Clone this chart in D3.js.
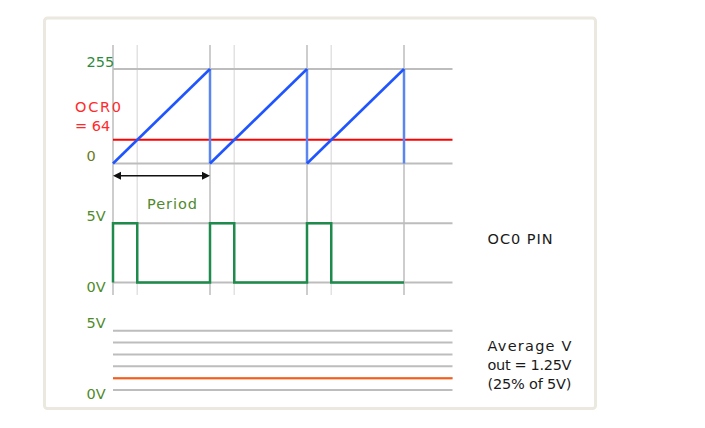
<!DOCTYPE html>
<html>
<head>
<meta charset="utf-8">
<script src="https://cdn.jsdelivr.net/npm/d3@7"></script>
<style>
  html, body { margin: 0; padding: 0; background: #ffffff; }
  svg { display: block; }
  text { font-family: "DejaVu Sans", sans-serif; font-size: 14.5px; }
</style>
</head>
<body>
<svg id="chart" width="705" height="428"></svg>
<script>
// ---------------- data ----------------
const timeExtent = [0, 3.5];                 // in PWM periods
const periodStarts = [0, 1, 2, 3];           // counter reset instants
const dutyCycle = 0.25;                      // OCR0 / 256
const counterRange = [0, 255];
const ocr0 = 64;
const counterTicks = ["0", "255"];
const counterTickValues = [0, 255];
// sawtooth ramps: [tStart, vStart, tEnd, vEnd]
const rampSegments = [[0, 0, 1, 255], [1, 0, 2, 255], [2, 0, 3, 255]];
// counter reset drops: time
const resetTimes = [1, 2, 3];
// OC0 pin waveform points [t, volts]
const pinWave = [[0, 0], [0, 5], [0.25, 5], [0.25, 0], [1, 0], [1, 5], [1.25, 5], [1.25, 0],
                 [2, 0], [2, 5], [2.25, 5], [2.25, 0], [3, 0]];
const pinLevels = [0, 5];
const pinTickLabels = ["0V", "5V"];
// average output panel
const avgGridLevels = [0, 1, 2, 3, 4, 5];
const avgLineLevel = 1;
const avgTickLabels = ["0V", "5V"];
const avgText = ["Average V", "out = 1.25V", "(25% of 5V)"];
const pinText = "OC0 PIN";
const ocrText = ["OCR0", "= 64"];
const periodText = "Period";

// ---------------- layout ----------------
const svg = d3.select("#chart");
const x = d3.scaleLinear().domain(timeExtent).range([113, 452.5]);
const yTop = d3.scaleLinear().domain(counterRange).range([163.5, 69]);
const yMid = d3.scaleLinear().domain([0, 5]).range([282.5, 223.3]);
const yBot = d3.scaleLinear().domain([0, 5]).range([390, 330.7]);

const labelGreen = "#4f8a2b";

function label(tx, ty, str, color, len, size) {
  const t = svg.append("text").attr("x", tx).attr("y", ty).attr("fill", color).text(str);
  if (size) t.style("font-size", size + "px");
  if (len) t.attr("textLength", len).attr("lengthAdjust", "spacing");
  return t;
}

// frame
svg.append("rect").attr("x", 44.5).attr("y", 18).attr("width", 551).attr("height", 390.5)
  .attr("rx", 3).attr("fill", "#fff").attr("stroke", "#ebe8df").attr("stroke-width", 3);

// vertical grid lines
const vTimes = [];
periodStarts.forEach(p => { vTimes.push({t: p, major: true}); if (p < periodStarts.length - 1) vTimes.push({t: p + dutyCycle, major: false}); });
svg.append("g").selectAll("line").data(vTimes).join("line")
  .attr("x1", d => x(d.t)).attr("x2", d => x(d.t))
  .attr("y1", 45).attr("y2", 295)
  .attr("stroke", d => d.major ? "#cdcdcd" : "#e2e2e2")
  .attr("stroke-width", d => d.major ? 2 : 1.5);

// horizontal grid lines - counter panel
svg.append("g").selectAll("line").data(counterTickValues).join("line")
  .attr("x1", x(timeExtent[0])).attr("x2", x(timeExtent[1]))
  .attr("y1", d => yTop(d)).attr("y2", d => yTop(d))
  .attr("stroke", "#bdbdbd").attr("stroke-width", 2);

// pin panel grid
svg.append("g").selectAll("line").data(pinLevels).join("line")
  .attr("x1", x(timeExtent[0])).attr("x2", x(timeExtent[1]))
  .attr("y1", d => yMid(d)).attr("y2", d => yMid(d))
  .attr("stroke", "#bdbdbd").attr("stroke-width", 2);

// average panel grid
svg.append("g").selectAll("line").data(avgGridLevels).join("line")
  .attr("x1", x(timeExtent[0])).attr("x2", x(timeExtent[1]))
  .attr("y1", d => yBot(d)).attr("y2", d => yBot(d))
  .attr("stroke", "#bdbdbd").attr("stroke-width", 2);

// OCR0 compare line
svg.append("line")
  .attr("x1", x(timeExtent[0])).attr("x2", x(timeExtent[1]))
  .attr("y1", yTop(ocr0)).attr("y2", yTop(ocr0))
  .attr("stroke", "#ff0000").attr("stroke-width", 2);

// reset drops
svg.append("g").selectAll("line").data(resetTimes).join("line")
  .attr("x1", d => x(d)).attr("x2", d => x(d))
  .attr("y1", yTop(255)).attr("y2", yTop(0))
  .attr("stroke", "#5b85f0").attr("stroke-width", 2.5);

// ramps
svg.append("g").selectAll("line").data(rampSegments).join("line")
  .attr("x1", d => x(d[0])).attr("y1", d => yTop(d[1]))
  .attr("x2", d => x(d[2])).attr("y2", d => yTop(d[3]))
  .attr("stroke", "#1f55ff").attr("stroke-width", 2.6);

// pin waveform
svg.append("path").datum(pinWave)
  .attr("d", d3.line().x(d => x(d[0])).y(d => yMid(d[1])))
  .attr("fill", "none").attr("stroke", "#1e8a4c").attr("stroke-width", 2.5);

// average line
svg.append("line")
  .attr("x1", x(timeExtent[0])).attr("x2", x(timeExtent[1]))
  .attr("y1", yBot(avgLineLevel)).attr("y2", yBot(avgLineLevel))
  .attr("stroke", "#ff5a14").attr("stroke-width", 2);

// period arrow
const ay = 175.7;
const ax0 = x(periodStarts[0]), ax1 = x(periodStarts[1]);
svg.append("line").attr("x1", ax0 + 4).attr("x2", ax1 - 4).attr("y1", ay).attr("y2", ay)
  .attr("stroke", "#111").attr("stroke-width", 1.5);
svg.append("path").attr("d", `M${ax0},${ay} l8,-4 l0,8 z`).attr("fill", "#111");
svg.append("path").attr("d", `M${ax1},${ay} l-8,-4 l0,8 z`).attr("fill", "#111");
label(147, 209.3, periodText, labelGreen, 50);

// counter tick labels
label(86.5, yTop(255) - 1.7, counterTicks[1], "#2e8b3e");
label(86.5, yTop(0) - 3, counterTicks[0], "#6b7a22");

// OCR0 label
label(75, 111.7, ocrText[0], "#ff2a2a", 46);
label(75, 130.7, ocrText[1], "#ff2a2a");

// pin tick labels
label(86.5, yMid(5) - 2.6, pinTickLabels[1], labelGreen);
label(86.5, yMid(0) + 9.2, pinTickLabels[0], labelGreen);

// average tick labels
label(86.5, yBot(5) - 2.4, avgTickLabels[1], labelGreen);
label(86.5, yBot(0) + 9.3, avgTickLabels[0], labelGreen);

// right-side texts
label(487.5, 244, pinText, "#1a1a1a", 65);
avgText.forEach((s, i) => label(487.5, 351 + i * 19, s, "#1a1a1a", 84));
</script>
</body>
</html>
